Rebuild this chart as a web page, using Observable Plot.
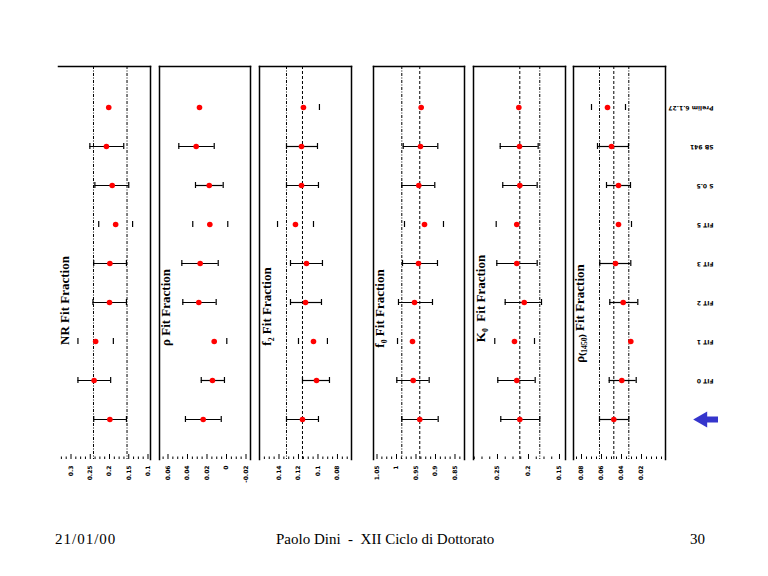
<!DOCTYPE html>
<html><head><meta charset="utf-8">
<script src="https://cdn.jsdelivr.net/npm/d3@7"></script>
<script src="https://cdn.jsdelivr.net/npm/@observablehq/plot@0.6"></script>
<style>
body{margin:0;background:#fff;}
#page{position:relative;width:768px;height:576px;overflow:hidden;font-family:"Liberation Serif",serif;background:#fff;}
.panel{position:absolute;top:60px;}
.panel svg{overflow:visible;}
.foot{position:absolute;top:531px;font-size:15px;white-space:pre;color:#000;}
</style></head><body><div id="page"></div>
<script>
// categories (top to bottom); last row is marked with the blue arrow
const rows = ["Prelim 6.1.27", "SB 941", "S 0.5", "FIT 5", "FIT 3", "FIT 2", "FIT 1", "FIT 0", "E791"];
const rowStyle = ["caps", "bar", "bar", "caps", "bar", "bar", "caps", "bar", "bar"];

// NR fit fraction
const nrVal = [0.202, 0.208, 0.193, 0.184, 0.199, 0.200, 0.236, 0.240, 0.199];
const nrHi  = [null, 0.251, 0.238, 0.228, 0.241, 0.243, 0.282, 0.282, 0.241];
const nrLo  = [null, 0.163, 0.150, 0.140, 0.156, 0.156, 0.190, 0.197, 0.156];
const nrDashDot = [0.2416, 0.1545];
const nrDashed = [];
const nrTicks = [0.3, 0.25, 0.2, 0.15, 0.1];

// rho fit fraction
const rhoVal = [0.0277, 0.0311, 0.0177, 0.0171, 0.0270, 0.0284, 0.0126, 0.0144, 0.0239];
const rhoHi  = [null, 0.0489, 0.0318, 0.0346, 0.0458, 0.0448, null, 0.0259, 0.0421];
const rhoLo  = [null, 0.0126, 0.0034, -0.0013, 0.0085, 0.0106, -0.0003, 0.0021, 0.0054];
const rhoDashDot = [];
const rhoDashed = [];
const rhoTicks = [0.06, 0.04, 0.02, 0, -0.02];

// f2 fit fraction
const f2Val = [0.1149, 0.1169, 0.1169, 0.1231, 0.1118, 0.1128, 0.1046, 0.1015, 0.1159];
const f2Hi  = [null, 0.1323, 0.1323, 0.1415, 0.1282, 0.1282, 0.1200, 0.1159, 0.1323];
const f2Lo  = [0.0985, 0.1005, 0.0995, 0.1046, 0.0954, 0.0964, 0.0903, 0.0882, 0.0995];
const f2DashDot = [0.1323];
const f2Dashed = [0.1159];
const f2Ticks = [0.14, 0.12, 0.1, 0.08];

// f0 fit fraction
const f0Val = [0.9367, 0.9385, 0.9428, 0.9282, 0.9436, 0.9538, 0.9590, 0.9572, 0.9403];
const f0Hi  = [null, 0.9828, 0.9864, 0.9795, 0.9846, 0.9949, 0.9974, 0.9992, 0.9864];
const f0Lo  = [null, 0.8941, 0.9018, 0.8795, 0.8949, 0.9077, null, 0.9162, 0.8931];
const f0DashDot = [0.9864];
const f0Dashed = [0.9403];
const f0Ticks = [1.05, 1, 0.95, 0.9, 0.85];

// K0 fit fraction
const k0Val = [0.2156, 0.2145, 0.2140, 0.2189, 0.2189, 0.2069, 0.2226, 0.2189, 0.2140];
const k0Hi  = [null, 0.2456, 0.2415, 0.2521, 0.2511, 0.2376, 0.2544, 0.2495, 0.2447];
const k0Lo  = [null, 0.1844, 0.1860, null, 0.1860, 0.1790, 0.1903, 0.1892, 0.1818];
const k0DashDot = [0.1818];
const k0Dashed = [0.2140];
const k0Ticks = [0.25, 0.2, 0.15];

// rho(1450) fit fraction
const r14Val = [0.054, 0.050, 0.043, 0.043, 0.046, 0.0383, 0.0307, 0.0397, 0.0477];
const r14Hi  = [0.070, 0.064, 0.055, null, 0.0617, 0.0517, null, 0.0523, 0.062];
const r14Lo  = [0.036, 0.033, 0.031, 0.030, 0.0307, 0.0237, null, 0.0253, 0.0327];
const r14DashDot = [0.062, 0.0327];
const r14Dashed = [0.0477];
const r14Ticks = [0.08, 0.06, 0.04, 0.02];

const fmt = d => String(Math.round(d * 1e6) / 1e6);

const panels = [
  {title: "NR Fit Fraction", val: nrVal, hi: nrHi, lo: nrLo, ticks: nrTicks, dashDot: nrDashDot, dashed: nrDashed,
   left: 58, right: 150, domain: [0.3325, 0.0935], minor: 0.0125, leftLine: false, titleY: 300, titleDx: 6},
  {title: "ρ Fit Fraction", val: rhoVal, hi: rhoHi, lo: rhoLo, ticks: rhoTicks, dashDot: rhoDashDot, dashed: rhoDashed,
   left: 159, right: 250, domain: [0.0687, -0.0246], minor: 0.005, leftLine: true, titleY: 307, titleDx: 6},
  {title: "f₂ Fit Fraction", val: f2Val, hi: f2Hi, lo: f2Lo, ticks: f2Ticks, dashDot: f2DashDot, dashed: f2Dashed,
   left: 259, right: 351, domain: [0.16, 0.0656], minor: 0.005, leftLine: true, titleY: 306, titleDx: 7},
  {title: "f₀ Fit Fraction", val: f0Val, hi: f0Hi, lo: f0Lo, ticks: f0Ticks, dashDot: f0DashDot, dashed: f0Dashed,
   left: 373, right: 464, domain: [1.059, 0.8256], minor: 0.0125, leftLine: true, titleY: 308, titleDx: 6},
  {title: "K₀  Fit Fraction", val: k0Val, hi: k0Hi, lo: k0Lo, ticks: k0Ticks, dashDot: k0DashDot, dashed: k0Dashed,
   left: 473, right: 565, domain: [0.2887, 0.1403], minor: 0.0125, leftLine: true, titleY: 298, titleDx: 7},
  {title: "ρ₍₁₄₅₀₎ Fit Fraction", val: r14Val, hi: r14Hi, lo: r14Lo, ticks: r14Ticks, dashDot: r14DashDot, dashed: r14Dashed,
   left: 573, right: 665, domain: [0.088, -0.004], minor: 0.005, leftLine: true, titleY: 313, titleDx: 6}
];

const page = document.getElementById("page");
const H = 440, MT = 6, MB = 41, frameH = H - MT - MB;

for (const p of panels) {
  const t = rows.map((row, i) => ({row, style: rowStyle[i], v: p.val[i], hi: p.hi[i], lo: p.lo[i]}));
  const bars = t.filter(d => d.style === "bar" && d.hi != null && d.lo != null);
  const caps = t.flatMap(d => [d.hi, d.lo].filter(v => v != null).map(v => ({row: d.row, v})));
  const [a, b] = d3.extent(p.domain);
  const minorTicks = d3.range(Math.ceil(a / p.minor - 1e-9), Math.floor(b / p.minor + 1e-9) + 1)
    .map(k => +(k * p.minor).toFixed(6))
    .filter(v => !p.ticks.some(m => Math.abs(m - v) < 1e-9));
  const plot = Plot.plot({
    width: p.right - p.left + 2, height: H,
    marginTop: MT, marginBottom: MB, marginLeft: 1, marginRight: 1,
    x: {domain: p.domain},
    y: {type: "point", domain: rows, padding: 1, axis: null},
    style: {background: "transparent", fontFamily: "DejaVu Sans"},
    marks: [
      Plot.ruleX(p.dashDot, {x: d => d, stroke: "black", strokeWidth: 1, strokeDasharray: "3,1.5,1,1.5"}),
      Plot.ruleX(p.dashed, {x: d => d, stroke: "black", strokeWidth: 1, strokeDasharray: "3,2"}),
      Plot.frame({anchor: "top", strokeWidth: 1.5}),
      Plot.frame({anchor: "right", strokeWidth: 1.5}),
      p.leftLine ? Plot.frame({anchor: "left", strokeWidth: 1.5}) : null,
      Plot.ruleY(bars, {y: "row", x1: "hi", x2: "lo", stroke: "black", strokeWidth: 1.2}),
      Plot.ruleX(caps, {x: "v", y1: "row", y2: "row", insetTop: -3, insetBottom: -3, stroke: "black", strokeWidth: 1.2}),
      Plot.dot(t, {x: "v", y: "row", fill: "red", r: 2.8}),
      Plot.ruleX(p.ticks, {x: d => d, insetTop: frameH - 5, stroke: "black"}),
      Plot.ruleX(minorTicks, {x: d => d, insetTop: frameH - 2.5, stroke: "black"}),
      Plot.axisX({ticks: p.ticks, tickSize: 0, tickPadding: 6, tickRotate: -90, tickFormat: fmt,
                  fontSize: 6, fontWeight: "bold", label: null}),
      Plot.text([p.title], {frameAnchor: "left", textAnchor: "middle", dx: p.titleDx,
                  dy: p.titleY - (60 + MT + frameH / 2), rotate: -90,
                  fontFamily: "Liberation Serif", fontWeight: "bold", fontSize: 13, fill: "black"})
    ]
  });
  const div = document.createElement("div");
  div.className = "panel";
  div.style.left = (p.left - 1) + "px";
  div.appendChild(plot);
  page.appendChild(div);
}

// category labels + arrow
const arrowRow = rows[rows.length - 1];
const labelPlot = Plot.plot({
  width: 102, height: H, marginTop: MT, marginBottom: MB, marginLeft: 0, marginRight: 0,
  y: {type: "point", domain: rows, padding: 1, axis: null},
  style: {background: "transparent", fontFamily: "DejaVu Sans"},
  marks: [
    Plot.text(rows.slice(0, -1), {y: d => d, text: d => d, frameAnchor: "left", dx: 47, rotate: 180,
              textAnchor: "start", fontSize: 6, fontWeight: "bold", fill: "black"}),
    Plot.ruleY([arrowRow], {y: d => d, insetLeft: 39, insetRight: 50, stroke: "#3535cc", strokeWidth: 6}),
    Plot.dot([arrowRow], {y: d => d, frameAnchor: "left", dx: 36, symbol: "triangle", rotate: -90, r: 6,
              fill: "#3535cc", stroke: "none"})
  ]
});
const ldiv = document.createElement("div");
ldiv.className = "panel";
ldiv.style.left = "666px";
ldiv.appendChild(labelPlot);
page.appendChild(ldiv);

// footer
const footer = [
  {text: "21/01/00", left: 55, spacing: "1px"},
  {text: "Paolo Dini  -  XII Ciclo di Dottorato", left: 276, spacing: "0px"},
  {text: "30", left: 690, spacing: "0px"}
];
for (const f of footer) {
  const d = document.createElement("div");
  d.className = "foot";
  d.style.left = f.left + "px";
  d.style.letterSpacing = f.spacing;
  d.textContent = f.text;
  page.appendChild(d);
}
</script>
</body></html>
